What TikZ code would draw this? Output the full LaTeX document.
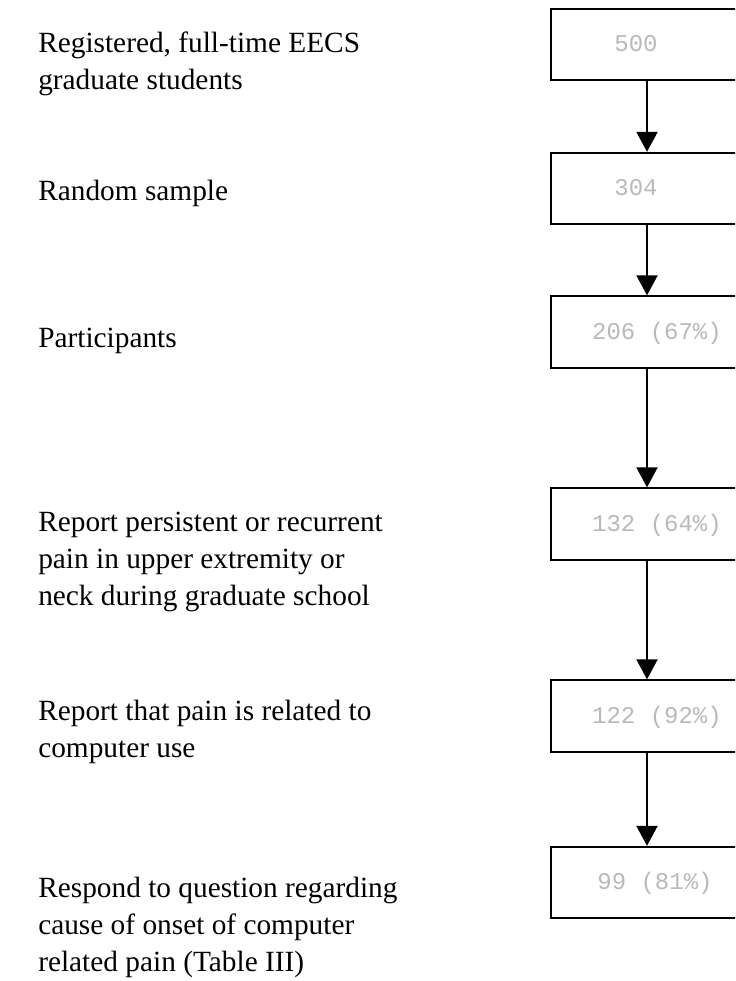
\documentclass[tikz,border=0pt]{standalone}
\usepackage{fontspec}
\setmainfont{Liberation Serif}
\newfontfamily\boxfont{Liberation Mono}
\usetikzlibrary{arrows.meta}
\begin{document}
\begin{tikzpicture}[x=0.75pt,y=-0.75pt,
  stagebox/.style={draw,line width=1.5pt,minimum width=144pt,minimum height=53.5pt,inner sep=0pt},
  count/.style={font=\boxfont\fontsize{18}{20}\selectfont,text=gray!55,inner sep=0pt,anchor=base},
  desc/.style={font=\fontsize{22}{27.4}\selectfont,align=left,anchor=base west,inner sep=0pt},
  flow/.style={line width=1.5pt,-{Triangle[width=15.75pt,length=15pt]}}]
\useasboundingbox (0,0) rectangle (735,981);
\clip (0,0) rectangle (735,981);
% boxes
\node[stagebox] (b1) at (647,44.5) {};
\node[stagebox] (b2) at (647,188.5) {};
\node[stagebox] (b3) at (647,332) {};
\node[stagebox] (b4) at (647,524) {};
\node[stagebox] (b5) at (647,716) {};
\node[stagebox] (b6) at (647,882.5) {};
% counts
\node[count] (c1) at (636,51.5) {500};
\node[count] (c2) at (636,195.5) {304};
\node[count] (c3) at (657,339) {206 (67\%)};
\node[count] (c4) at (657,531) {132 (64\%)};
\node[count] (c5) at (657,723) {122 (92\%)};
\node[count] (c6) at (655,889.5) {99 (81\%)};
% arrows
\draw[flow] (b1.south) -- (b2.north);
\draw[flow] (b2.south) -- (b3.north);
\draw[flow] (b3.south) -- (b4.north);
\draw[flow] (b4.south) -- (b5.north);
\draw[flow] (b5.south) -- (b6.north);
% descriptions (anchor at baseline of last line)
\node[desc] (d1) at (38,89.5) {Registered, full-time EECS\\graduate students};
\node[desc] (d2) at (38,200) {Random sample};
\node[desc] (d3) at (38,347) {Participants};
\node[desc] (d4) at (38,605) {Report persistent or recurrent\\pain in upper extremity or\\neck during graduate school};
\node[desc] (d5) at (38,757.5) {Report that pain is related to\\computer use};
\node[desc] (d6) at (38,971) {Respond to question regarding\\cause of onset of computer\\related pain (Table III)};
\end{tikzpicture}
\end{document}
